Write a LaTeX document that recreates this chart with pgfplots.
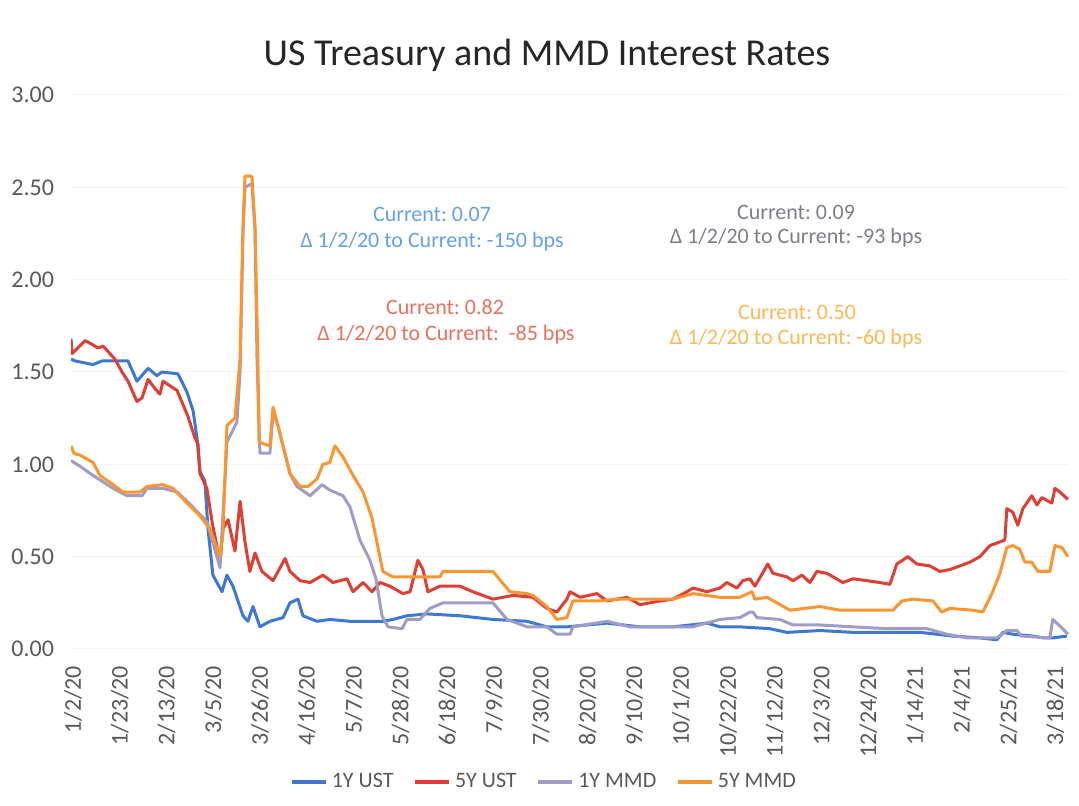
\documentclass[border=0pt]{standalone}
\usepackage{fontspec}
\setmainfont{Carlito}
\usepackage{pgfplots}
\pgfplotsset{compat=1.18}
\definecolor{ustone}{RGB}{62,120,208}
\definecolor{ustfive}{RGB}{222,62,52}
\definecolor{mmdone}{RGB}{160,156,200}
\definecolor{mmdfive}{RGB}{250,150,50}
\definecolor{annblue}{RGB}{100,160,235}
\definecolor{annred}{RGB}{232,112,95}
\definecolor{anngray}{RGB}{125,125,140}
\definecolor{annorange}{RGB}{255,184,80}
\definecolor{tickgray}{RGB}{89,89,89}
\begin{document}
\frenchspacing
\begin{tikzpicture}
\path[use as bounding box] (0,0) rectangle (539.5pt,403pt);
\begin{axis}[
  at={(35.5pt,78.5pt)}, anchor=south west,
  scale only axis, width=499pt, height=277pt,
  xmin=0, xmax=448, ymin=0, ymax=3,
  axis line style={draw=none},
  major tick length=0pt,
  ymajorgrids, grid style={gray!8, line width=0.5pt},
  ytick={0,0.5,1,1.5,2,2.5,3},
  yticklabel style={font=\fontsize{12}{14}\selectfont, text=tickgray, anchor=east, xshift=-5pt,
    /pgf/number format/.cd, fixed, fixed zerofill, precision=2, assume math mode=true},
  xtick={0,21,42,63,84,105,126,147,168,189,210,231,252,273,294,315,336,357,378,399,420,441},
  xticklabels={1/2/20,1/23/20,2/13/20,3/5/20,3/26/20,4/16/20,5/7/20,5/28/20,6/18/20,7/9/20,7/30/20,8/20/20,9/10/20,10/1/20,10/22/20,11/12/20,12/3/20,12/24/20,1/14/21,2/4/21,2/25/21,3/18/21},
  xticklabel style={font=\fontsize{12}{14}\selectfont, text=tickgray, rotate=90, anchor=east, xshift=-5pt, yshift=-1pt},
  legend style={at={(0.475,-0.24)}, anchor=center, draw=none, fill=none,
    font=\fontsize{11}{13}\selectfont, text=tickgray, legend columns=4,
    /tikz/every even column/.append style={column sep=8pt}},
  legend image code/.code={\draw[#1, line width=1.8pt] (0pt,0pt) -- (17pt,0pt);},
  every axis plot/.append style={line width=1.5pt, line join=round},
]
\addplot[ustone] coordinates {
(0,1.57)(1.8,1.56)(9.9,1.54)(13.9,1.56)(19.7,1.56)(25.6,1.56)(29.6,1.45)(34.6,1.52)(38.6,1.48)(40.8,1.50)(48.0,1.49)(52.1,1.39)(54.8,1.29)(56.6,1.14)(57.9,0.96)(60.1,0.91)(61.5,0.65)(63.7,0.40)(67.8,0.31)(70.0,0.40)(72.7,0.34)(77.2,0.18)(79.4,0.15)(81.7,0.23)(84.8,0.12)(89.3,0.15)(95.2,0.17)(98.3,0.25)(101.9,0.27)(104.1,0.18)(110.4,0.15)(116.2,0.16)(125.2,0.15)(134.2,0.15)(140.0,0.15)(144.5,0.16)(150.8,0.18)(159.8,0.19)(174.6,0.18)(189.4,0.16)(204.7,0.15)(213.6,0.12)(222.6,0.12)(240.6,0.14)(255.4,0.12)(270.2,0.12)(285.5,0.14)(291.3,0.12)(300.3,0.12)(313.7,0.11)(321.4,0.09)(336.2,0.10)(351.0,0.09)(366.2,0.09)(381.1,0.09)(388.7,0.08)(395.9,0.07)(408.0,0.06)(415.6,0.05)(418.3,0.09)(422.8,0.08)(431.8,0.07)(436.3,0.06)(440.7,0.06)(447.0,0.07)
};
\addlegendentry{1Y UST}
\addplot[ustfive] coordinates {
(0,1.68)(0.5,1.60)(6.3,1.67)(9.4,1.65)(12.1,1.63)(14.4,1.64)(19.7,1.57)(22.9,1.50)(25.6,1.45)(29.6,1.34)(31.9,1.36)(34.6,1.46)(37.7,1.41)(39.9,1.38)(41.3,1.45)(47.6,1.40)(52.5,1.26)(55.7,1.14)(57.0,1.11)(57.9,0.95)(61.0,0.87)(63.3,0.69)(64.6,0.61)(66.9,0.47)(68.2,0.65)(70.5,0.70)(73.6,0.53)(75.9,0.80)(78.1,0.58)(80.3,0.42)(82.6,0.52)(85.7,0.42)(90.7,0.37)(96.1,0.49)(98.3,0.42)(102.8,0.37)(107.3,0.36)(113.1,0.40)(117.6,0.36)(123.9,0.38)(126.6,0.31)(131.1,0.36)(135.1,0.31)(138.7,0.36)(143.2,0.34)(149.0,0.30)(152.2,0.31)(155.7,0.48)(158.0,0.43)(160.2,0.31)(165.6,0.34)(174.6,0.34)(180.4,0.31)(189.4,0.27)(198.4,0.29)(207.4,0.28)(213.6,0.22)(218.1,0.20)(222.6,0.27)(224.0,0.31)(228.5,0.28)(236.1,0.30)(240.6,0.26)(249.6,0.28)(255.4,0.24)(264.4,0.26)(270.2,0.27)(276.5,0.31)(279.2,0.33)(285.5,0.31)(291.3,0.33)(294.4,0.36)(298.9,0.33)(301.6,0.37)(304.8,0.38)(307.0,0.34)(312.8,0.46)(315.1,0.41)(321.4,0.39)(324.1,0.37)(328.1,0.40)(331.7,0.36)(334.8,0.42)(339.3,0.41)(346.5,0.36)(351.0,0.38)(357.3,0.37)(363.1,0.36)(367.6,0.35)(370.7,0.46)(375.7,0.50)(379.7,0.46)(385.5,0.45)(390.0,0.42)(394.5,0.43)(399.0,0.45)(403.5,0.47)(408.0,0.50)(412.5,0.56)(417.0,0.58)(419.2,0.59)(420.1,0.76)(422.8,0.74)(425.0,0.67)(427.3,0.76)(431.3,0.83)(433.6,0.78)(435.8,0.82)(440.3,0.79)(441.7,0.87)(443.9,0.85)(447.5,0.81)
};
\addlegendentry{5Y UST}
\addplot[mmdone] coordinates {
(0,1.02)(4.0,0.99)(9.9,0.94)(18.9,0.87)(25.1,0.83)(31.9,0.83)(34.1,0.87)(41.3,0.87)(47.6,0.85)(52.1,0.80)(61.0,0.69)(66.9,0.44)(70.0,1.12)(74.5,1.23)(75.9,1.50)(77.2,2.25)(78.1,2.50)(81.2,2.52)(82.6,2.27)(83.5,1.57)(84.8,1.06)(89.3,1.06)(90.7,1.28)(92.9,1.21)(98.3,0.95)(101.4,0.88)(107.3,0.83)(112.7,0.89)(116.2,0.86)(122.1,0.83)(125.2,0.77)(129.7,0.59)(134.2,0.48)(136.9,0.38)(139.6,0.18)(142.3,0.12)(148.6,0.11)(150.8,0.16)(156.6,0.16)(161.1,0.22)(167.0,0.25)(189.4,0.25)(195.7,0.16)(204.7,0.12)(213.6,0.12)(218.1,0.08)(224.0,0.08)(225.3,0.12)(240.6,0.15)(250.9,0.12)(270.2,0.12)(279.2,0.12)(291.3,0.16)(300.3,0.17)(304.8,0.20)(306.1,0.20)(307.9,0.17)(318.2,0.16)(324.1,0.13)(336.2,0.13)(351.0,0.12)(366.2,0.11)(384.2,0.11)(393.2,0.08)(402.2,0.06)(415.6,0.06)(420.1,0.10)(424.6,0.10)(426.8,0.07)(439.4,0.06)(440.7,0.16)(445.2,0.11)(447.5,0.08)
};
\addlegendentry{1Y MMD}
\addplot[mmdfive] coordinates {
(0,1.10)(1.3,1.06)(4.0,1.05)(9.9,1.01)(13.0,0.94)(18.9,0.89)(23.3,0.85)(31.0,0.85)(34.1,0.88)(41.3,0.89)(45.8,0.87)(52.1,0.79)(57.9,0.72)(62.4,0.65)(66.9,0.50)(68.2,0.63)(70.0,1.21)(73.6,1.25)(75.9,1.57)(77.2,2.29)(78.1,2.56)(81.2,2.56)(82.6,2.29)(83.9,1.57)(84.4,1.12)(89.3,1.10)(90.7,1.31)(92.9,1.21)(98.3,0.95)(102.8,0.88)(106.4,0.88)(110.4,0.92)(113.1,1.00)(116.2,1.01)(118.5,1.10)(122.1,1.04)(126.6,0.94)(131.1,0.85)(135.1,0.71)(137.3,0.58)(140.0,0.42)(144.5,0.39)(165.6,0.39)(167.0,0.42)(189.4,0.42)(197.0,0.31)(204.7,0.30)(207.4,0.29)(213.6,0.23)(218.1,0.16)(222.6,0.17)(225.3,0.26)(237.4,0.26)(245.1,0.27)(270.2,0.27)(279.2,0.30)(291.3,0.28)(300.3,0.28)(305.7,0.31)(307.0,0.27)(312.4,0.28)(316.9,0.25)(322.7,0.21)(336.2,0.23)(345.2,0.21)(368.9,0.21)(373.0,0.26)(377.9,0.27)(386.9,0.26)(390.9,0.20)(394.5,0.22)(404.8,0.21)(409.3,0.20)(413.4,0.30)(417.0,0.41)(420.1,0.55)(422.8,0.56)(425.9,0.54)(428.2,0.47)(431.3,0.47)(434.0,0.42)(439.4,0.42)(441.7,0.56)(444.8,0.55)(447.5,0.50)
};
\addlegendentry{5Y MMD}
\end{axis}
\node[font=\fontsize{19}{22}\selectfont, text=black!85] at (273.5pt,375.5pt) {US Treasury and MMD Interest Rates};
\begin{scope}[every node/.style={font=\fontsize{11}{13}\selectfont, inner sep=0pt}]
\node[text=annblue] at (216pt,296pt) {Current: 0.07};
\node[text=annblue] at (216pt,282pt) {Δ 1/2/20 to Current: -150 bps};
\node[text=annred] at (222.5pt,249.5pt) {Current: 0.82};
\node[text=annred] at (223pt,235.5pt) {Δ 1/2/20 to Current:\ \ -85 bps};
\node[text=anngray] at (398pt,297pt) {Current: 0.09};
\node[text=anngray] at (398pt,284pt) {Δ 1/2/20 to Current: -93 bps};
\node[text=annorange] at (398.5pt,247pt) {Current: 0.50};
\node[text=annorange] at (398pt,233.5pt) {Δ 1/2/20 to Current: -60 bps};
\end{scope}
\end{tikzpicture}
\end{document}
